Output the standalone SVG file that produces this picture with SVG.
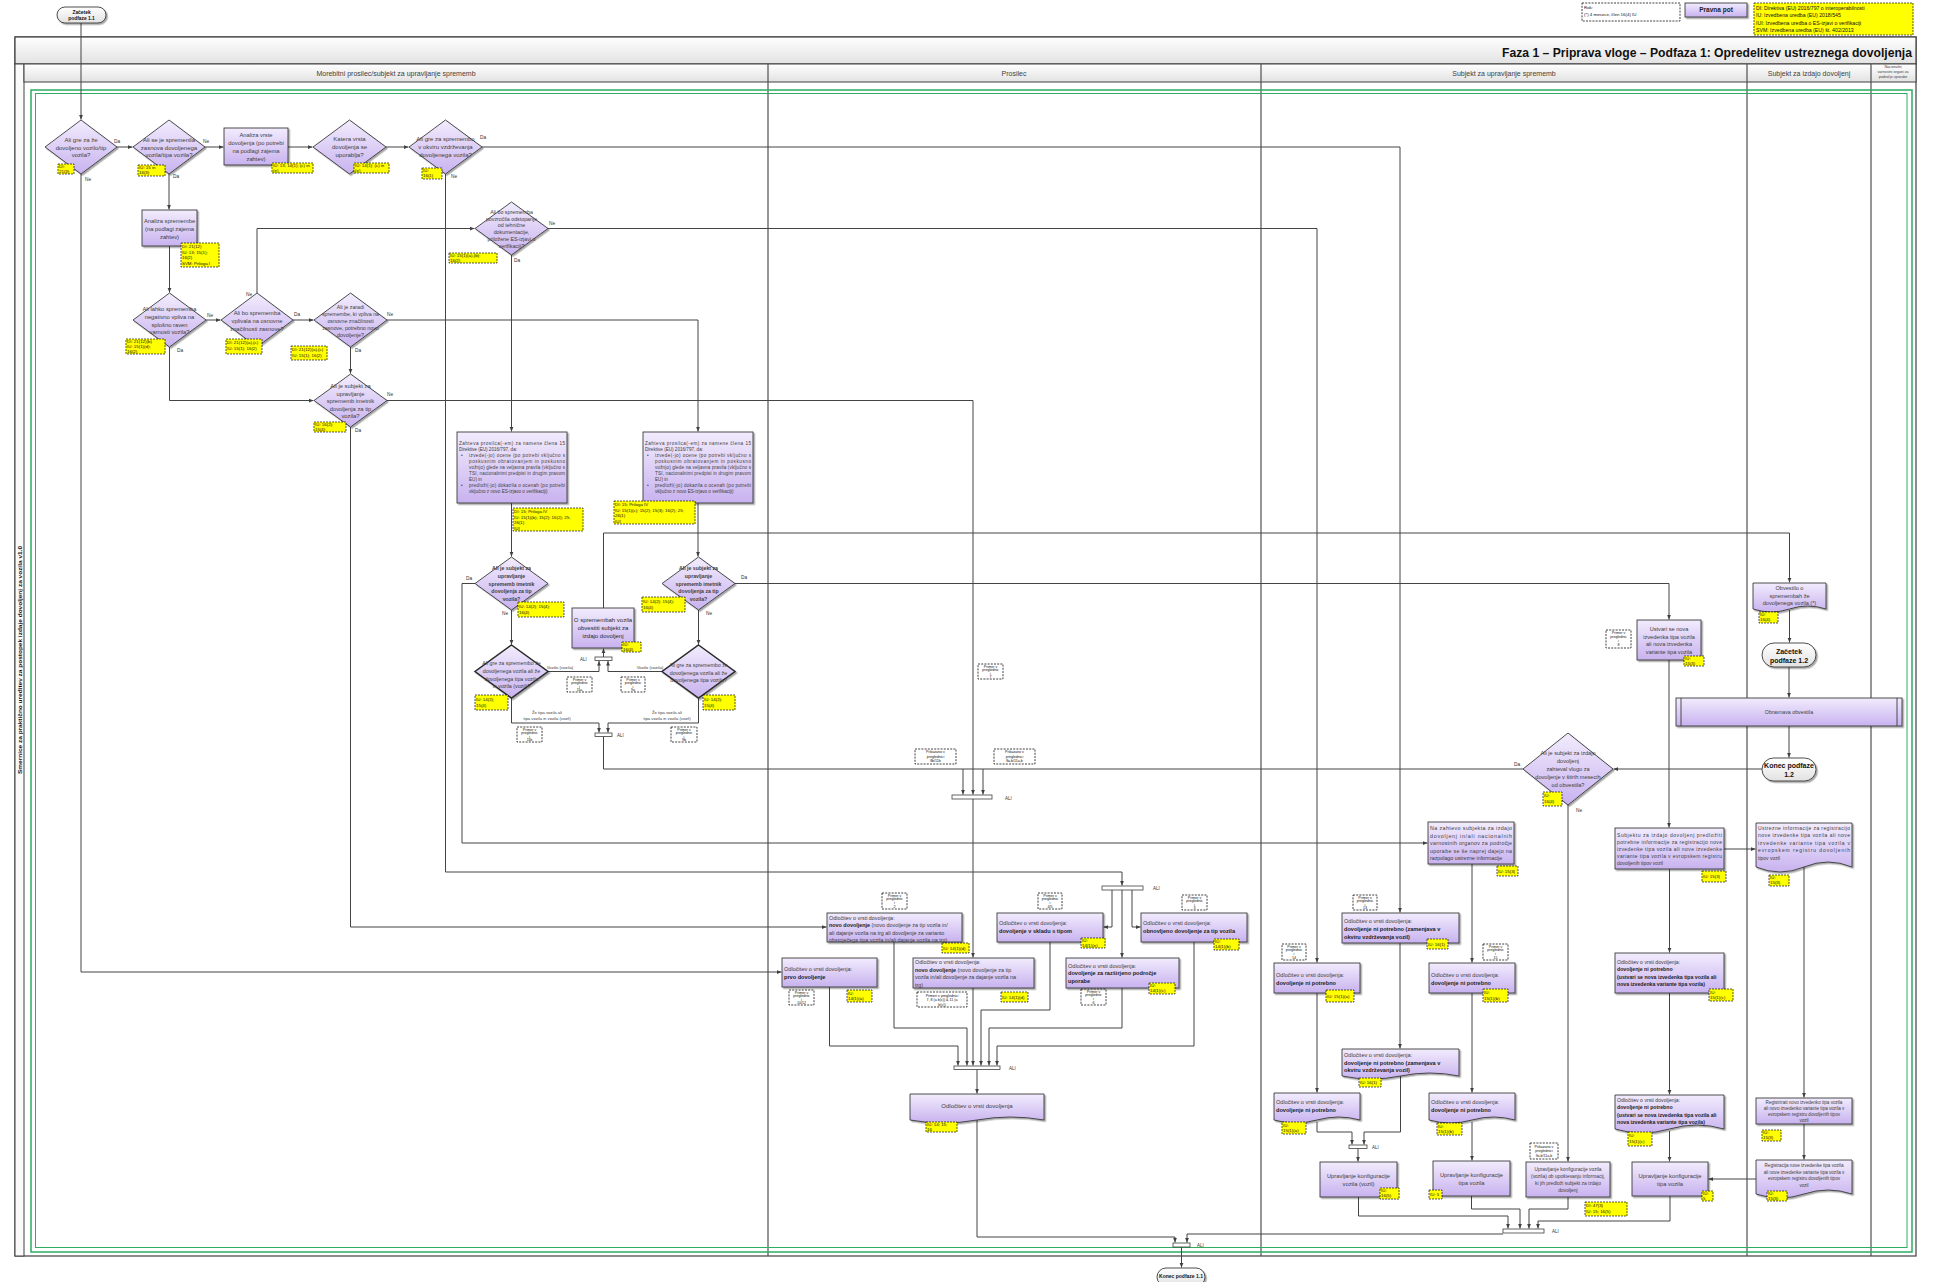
<svg xmlns="http://www.w3.org/2000/svg" width="1944" height="1282" viewBox="0 0 1944 1282">
<defs>
<linearGradient id="lil" x1="0" y1="0" x2="0" y2="1"><stop offset="0" stop-color="#f2ecfd"/><stop offset="1" stop-color="#c8b2ef"/></linearGradient>
<linearGradient id="gry" x1="0" y1="0" x2="0" y2="1"><stop offset="0" stop-color="#ffffff"/><stop offset="1" stop-color="#e2e2e2"/></linearGradient>
<filter id="sh" x="-5%" y="-5%" width="115%" height="130%"><feDropShadow dx="1.5" dy="1.5" stdDeviation="0.7" flood-color="#000" flood-opacity="0.35"/></filter>
<marker id="ah" viewBox="0 0 6 6" refX="6" refY="3" markerWidth="4.5" markerHeight="4.5" markerUnits="userSpaceOnUse" orient="auto"><path d="M0,0.5 L6,3 L0,5.5 z" fill="#404040"/></marker>
</defs>
<style>
text{font-family:"Liberation Sans",Arial,sans-serif;fill:#404040}
.nd{fill:url(#lil);stroke:#3a3a3a;stroke-width:0.9;filter:url(#sh)}
.ndk{fill:url(#lil);stroke:#2a2a2a;stroke-width:1.5;filter:url(#sh)}
.tm{fill:url(#gry);stroke:#3a3a3a;stroke-width:0.9;filter:url(#sh)}
.ref{fill:#ffff00;stroke:#111;stroke-width:0.7;stroke-dasharray:2 1}
.dsh{fill:#fff;stroke:#111;stroke-width:0.8;stroke-dasharray:2 1.2}
.bar{fill:#fff;stroke:#404040;stroke-width:0.8}
.cn{fill:none;stroke:#444;stroke-width:1;marker-end:url(#ah)}
.ln{fill:none;stroke:#444;stroke-width:1}
.lane{stroke:#505050;stroke-width:1.2}
.c{text-anchor:middle}
.b{font-weight:bold}
.t6{font-size:6px}
.t58{font-size:5.8px}
.t55{font-size:5.5px}
.t53{font-size:5.3px}
.t5{font-size:5px}
.t46{font-size:4.6px}
.r{font-size:4.4px;fill:#111}
.p{font-size:3.6px;fill:#111;text-anchor:middle}
.e{font-size:4.8px;fill:#333}
.al{font-size:4.5px;fill:#333}
</style>
<rect x="0" y="0" width="1944" height="1282" fill="#ffffff"/>

<!-- Pool / lanes -->
<g id="pool">
<rect x="15" y="37" width="1901" height="1219" fill="#fff" stroke="#404040" stroke-width="1.2"/>
<rect x="15" y="37" width="1901" height="27" fill="url(#gry)" stroke="#404040" stroke-width="1.2"/>
<text x="1502" y="57" font-size="13" font-weight="bold" style="fill:#111" textLength="410" lengthAdjust="spacingAndGlyphs">Faza 1 – Priprava vloge – Podfaza 1: Opredelitev ustreznega dovoljenja</text>
<rect x="15" y="64" width="9" height="1192" fill="#fafafa" stroke="#404040" stroke-width="1"/>
<text transform="translate(22,660) rotate(-90)" text-anchor="middle" font-size="6.2" font-weight="bold" style="fill:#111" textLength="228" lengthAdjust="spacingAndGlyphs">Smernice za praktično ureditev za postopek izdaje dovoljenj za vozila v1.0</text>
<rect x="24" y="64" width="1892" height="18" fill="url(#gry)" stroke="#404040" stroke-width="1"/>
<line class="lane" x1="768" y1="64" x2="768" y2="1256"/>
<line class="lane" x1="1261" y1="64" x2="1261" y2="1256"/>
<line class="lane" x1="1747" y1="64" x2="1747" y2="1256"/>
<line class="lane" x1="1871" y1="64" x2="1871" y2="1256"/>
<text class="c" x="396" y="75.5" font-size="7">Morebitni prosilec/subjekt za upravljanje sprememb</text>
<text class="c" x="1014" y="75.5" font-size="7">Prosilec</text>
<text class="c" x="1504" y="75.5" font-size="7">Subjekt za upravljanje sprememb</text>
<text class="c" x="1809" y="75.5" font-size="7">Subjekt za izdajo dovoljenj</text>
<text class="c" x="1893" y="68" font-size="3.7">Nacionalni</text>
<text class="c" x="1893" y="73" font-size="3.7">varnostni organi za</text>
<text class="c" x="1893" y="78" font-size="3.7">področje uporabe</text>
<rect x="31" y="90" width="1881" height="1162" fill="none" stroke="#2dad62" stroke-width="1.5"/>
<rect x="35.5" y="93.5" width="1871.5" height="1154" fill="none" stroke="#2dad62" stroke-width="1"/>
</g>

<!-- Legend -->
<g id="legend">
<rect class="dsh" x="1582" y="3" width="98" height="18"/>
<text class="r" x="1584" y="9">Rok:</text>
<text class="r" x="1584" y="16">(*) 4 mesece, člen 16(4) IU</text>
<rect class="nd" x="1685" y="3" width="62" height="14"/>
<text class="c b" x="1716" y="12.3" font-size="6.5" style="fill:#222">Pravna pot</text>
<rect class="ref" x="1754" y="3" width="159" height="32"/>
<text class="r" style="font-size:5.2px"><tspan x="1756" y="9.5">DI: Direktiva (EU) 2016/797 o interoperabilnosti</tspan><tspan x="1756" y="17">IU: Izvedbena uredba (EU) 2018/545</tspan><tspan x="1756" y="24.5">IUI: Izvedbena uredba o ES-izjavi o verifikaciji</tspan><tspan x="1756" y="32">SVM: Izvedbena uredba (EU) št. 402/2013</tspan></text>
</g>

<!-- Connectors -->
<g id="connectors">
<path class="cn" d="M81,23 V119.5"/>
<path class="cn" d="M117,147 H132.5"/>
<path class="cn" d="M81,174 V972 H781.5"/>
<path class="cn" d="M205,147 H223.5"/>
<path class="cn" d="M169,174 V209.5"/>
<path class="cn" d="M288,147 H312.5"/>
<path class="cn" d="M386,147 H408.5"/>
<path class="cn" d="M482,147 H1400 V912.5"/>
<path class="cn" d="M445.5,174 V872 H1122 V885.5"/>
<path class="cn" d="M169.5,246 V292.5"/>
<path class="cn" d="M206,320 H220.5"/>
<path class="cn" d="M169.5,347 V400.5 H313.5"/>
<path class="cn" d="M257,293 V228.5 H474.5"/>
<path class="cn" d="M293,320 H313.5"/>
<path class="cn" d="M350.5,347 V373.5"/>
<path class="cn" d="M387,320 H698 V431.5"/>
<path class="cn" d="M548,228.5 H1317 V962.5"/>
<path class="cn" d="M511.5,255 V431.5"/>
<path class="cn" d="M387,400.5 H973 V794.5"/>
<path class="cn" d="M350.5,427 V927 H826.5"/>
<path class="cn" d="M511.5,503 V556.5"/>
<path class="cn" d="M698,503 V556.5"/>
<path class="cn" d="M475,583.5 H462 V843 H1427.5"/>
<path class="cn" d="M511.5,610 V644.5"/>
<path class="cn" d="M735,583.5 H1669 V619.5"/>
<path class="cn" d="M698.5,610 V644.5"/>
<path class="cn" d="M548,671.5 H599 V661"/>
<path class="cn" d="M662,671.5 H608 V661"/>
<path class="cn" d="M603.5,657 V648.5"/>
<path class="cn" d="M603.5,608 V533 H1789.5 V582.5"/>
<path class="cn" d="M511.5,698 V723 H599 V732.5"/>
<path class="cn" d="M698.5,698 V723 H608 V732.5"/>
<path class="cn" d="M603.5,736.5 V769 H963 V794.5"/>
<path class="ln" d="M963,769 H983"/>
<path class="cn" d="M1523,769 H983 V794.5"/>
<path class="cn" d="M973,799 V957.5"/>
<path class="cn" d="M1112,890 V927 H1103.5"/>
<path class="cn" d="M1122,890 V957.5"/>
<path class="cn" d="M1132,890 V927 H1140.5"/>
<path class="cn" d="M829.5,987 V1046 H958 V1065.5"/>
<path class="cn" d="M894,942 V1028 H967 V1065.5"/>
<path class="cn" d="M973,988 V1065.5"/>
<path class="cn" d="M1050,942 V1010 H981 V1065.5"/>
<path class="cn" d="M1122,988 V1028 H989 V1065.5"/>
<path class="cn" d="M1194,942 V1046 H997 V1065.5"/>
<path class="cn" d="M977,1069.5 V1093.5"/>
<path class="cn" d="M977,1120 V1237 H1175 V1242.5"/>
<path class="cn" d="M1503,1234 H1187 V1242.5"/>
<path class="cn" d="M1181.5,1247 V1267.5"/>
<path class="cn" d="M1472,864 V962.5"/>
<path class="cn" d="M1400,943 V1048.5"/>
<path class="cn" d="M1317,993 V1092.5"/>
<path class="cn" d="M1472,993 V1092.5"/>
<path class="cn" d="M1317,1122 V1132 H1352 V1144.5"/>
<path class="cn" d="M1400.5,1076 V1132 H1364 V1144.5"/>
<path class="cn" d="M1358,1148.5 V1161.5"/>
<path class="cn" d="M1472,1122 V1160.5"/>
<path class="cn" d="M1358.5,1197 V1216 H1508 V1228.5"/>
<path class="cn" d="M1471.5,1196 V1209 H1520 V1228.5"/>
<path class="cn" d="M1568,1197 V1209 H1529 V1228.5"/>
<path class="cn" d="M1670,1196 V1221 H1538 V1228.5"/>
<path class="cn" d="M1568,805 V1161.5"/>
<path class="cn" d="M1669,660 V827.5"/>
<path class="cn" d="M1724,849 H1755.5"/>
<path class="cn" d="M1669.5,869 V952.5"/>
<path class="cn" d="M1669.5,993 V1094.5"/>
<path class="cn" d="M1669.5,1131 V1161.5"/>
<path class="cn" d="M1804,866 V1097.5"/>
<path class="cn" d="M1804,1124 V1159.5"/>
<path class="cn" d="M1756,1179 H1708.5"/>
<path class="cn" d="M1789.5,610 V642.5"/>
<path class="cn" d="M1789,667 V697.5"/>
<path class="cn" d="M1789,726 V757.5"/>
<path class="cn" d="M1762,769 H1613.5"/>
<text class="e" x="114" y="143">Da</text>
<text class="e" x="85" y="181">Ne</text>
<text class="e" x="203" y="143">Ne</text>
<text class="e" x="173" y="178">Da</text>
<text class="e" x="480" y="139">Da</text>
<text class="e" x="451" y="178">Ne</text>
<text class="e" x="549" y="225">Ne</text>
<text class="e" x="514" y="262">Da</text>
<text class="e" x="207" y="317">Ne</text>
<text class="e" x="177" y="352">Da</text>
<text class="e" x="246" y="296">Ne</text>
<text class="e" x="294" y="316">Da</text>
<text class="e" x="387" y="316">Ne</text>
<text class="e" x="355" y="352">Da</text>
<text class="e" x="387" y="396">Ne</text>
<text class="e" x="355" y="432">Da</text>
<text class="e" x="466" y="580">Da</text>
<text class="e" x="502" y="615">Ne</text>
<text class="e" x="741" y="579">Da</text>
<text class="e" x="706" y="615">Ne</text>
<text class="e" x="1514" y="766">Da</text>
<text class="e" x="1576" y="812">Ne</text>
<text class="c" x="560" y="669" font-size="4.3">Vozilo (vozila)</text>
<text class="c" x="650" y="669" font-size="4.3">Vozilo (vozila)</text>
<text class="c" x="547" y="714" font-size="4.2">Že tipa vozila ali</text>
<text class="c" x="547" y="720" font-size="4.2">tipa vozila in vozila (vozil)</text>
<text class="c" x="667" y="714" font-size="4.2">Že tipa vozila ali</text>
<text class="c" x="667" y="720" font-size="4.2">tipa vozila in vozila (vozil)</text>
</g>

<!-- ALI gateways -->
<g id="ali-1"><rect class="bar" x="595" y="657" width="17" height="3.5"/><text class="al" x="580" y="661">ALI</text><text class="al" x="573" y="632">ALI</text></g>
<g id="ali-2"><rect class="bar" x="595" y="733" width="17" height="3.5"/><text class="al" x="617" y="737">ALI</text></g>
<g id="ali-3"><rect class="bar" x="952" y="795" width="40" height="4"/><text class="al" x="1005" y="800">ALI</text></g>
<g id="ali-4"><rect class="bar" x="1102" y="886" width="41" height="4"/><text class="al" x="1153" y="890">ALI</text></g>
<g id="ali-5"><rect class="bar" x="954" y="1066" width="46" height="3.5"/><text class="al" x="1009" y="1069.5">ALI</text></g>
<g id="ali-6"><rect class="bar" x="1173" y="1243" width="17" height="4"/><text class="al" x="1197" y="1247">ALI</text></g>
<g id="ali-7"><rect class="bar" x="1349" y="1145" width="18" height="3.5"/><text class="al" x="1372" y="1149">ALI</text></g>
<g id="ali-8"><rect class="bar" x="1503" y="1229" width="41" height="4"/><text class="al" x="1552" y="1233">ALI</text></g>

<!-- Terminals -->
<g id="n-start"><rect class="tm" x="57" y="7" width="49" height="16" rx="8"/><text class="c b" x="81.5" y="13.8" font-size="4.9" style="fill:#111">Začetek</text><text class="c b" x="81.5" y="20" font-size="4.9" style="fill:#111">podfaze 1.1</text></g>
<g id="n-end11"><rect class="tm" x="1157" y="1268" width="48" height="18" rx="9"/><text class="c b" x="1181" y="1278" font-size="5" style="fill:#111">Konec podfaze 1.1</text></g>
<g id="n-start12"><rect class="tm" x="1762" y="643" width="54" height="24" rx="12"/><text class="c b" x="1789" y="653.5" font-size="7" style="fill:#111">Začetek</text><text class="c b" x="1789" y="662.5" font-size="7" style="fill:#111">podfaze 1.2</text></g>
<g id="n-end12"><rect class="tm" x="1762" y="758" width="54" height="23" rx="11.5"/><text class="c b" x="1789" y="768" font-size="7" style="fill:#111">Konec podfaze</text><text class="c b" x="1789" y="777" font-size="7" style="fill:#111">1.2</text></g>

<!-- Lane 1 nodes -->
<g id="n-d1"><polygon class="nd" points="81,120 117,147 81,174 45,147"/><text class="c t6"><tspan x="81" y="142">Ali gre za že</tspan><tspan x="81" y="149.5">dovoljeno vozilo/tip</tspan><tspan x="81" y="157">vozila?</tspan></text>
<rect class="ref" x="58" y="164" width="16" height="10"/><text class="r"><tspan x="59" y="168.3">DI:</tspan><tspan x="59" y="173">21(3)</tspan></text></g>

<g id="n-d2"><polygon class="nd" points="169,120 205,147 169,174 133,147"/><text class="c t6"><tspan x="169" y="142">Ali se je spremenila</tspan><tspan x="169" y="149.5">zasnova dovoljenega</tspan><tspan x="169" y="157">vozila/tipa vozila?</tspan></text>
<rect class="ref" x="138" y="165" width="27" height="11"/><text class="r"><tspan x="139" y="169.3">IU: 15 in</tspan><tspan x="139" y="174.3">16(3)</tspan></text></g>

<g id="n-b1"><rect class="nd" x="224" y="128" width="64" height="37"/><text class="c t58"><tspan x="256" y="137">Analiza vrste</tspan><tspan x="256" y="145">dovoljenja (po potrebi</tspan><tspan x="256" y="153">na podlagi zajema</tspan><tspan x="256" y="160.5">zahtev)</tspan></text>
<rect class="ref" x="272" y="163" width="41" height="10"/><text class="r"><tspan x="273" y="167.3">IU: 13; 14(1); (c) in</tspan><tspan x="273" y="172">(e)</tspan></text></g>

<g id="n-d3"><polygon class="nd" points="349.5,120 386,147 349.5,174 313,147"/><text class="c t6"><tspan x="349.5" y="141">Katera vrsta</tspan><tspan x="349.5" y="149">dovoljenja se</tspan><tspan x="349.5" y="157">uporablja?</tspan></text>
<rect class="ref" x="354" y="163" width="35" height="10"/><text class="r"><tspan x="355" y="167.3">IU: 14(1); (c) in</tspan><tspan x="355" y="172">(e)</tspan></text></g>

<g id="n-d4"><polygon class="nd" points="445.5,120 482,147 445.5,174 409,147"/><text class="c t6"><tspan x="445.5" y="141">Ali gre za spremembo</tspan><tspan x="445.5" y="149">v okviru vzdrževanja</tspan><tspan x="445.5" y="157">dovoljenega vozila?</tspan></text>
<rect class="ref" x="422" y="168" width="20" height="11"/><text class="r"><tspan x="423" y="172.3">IU:</tspan><tspan x="423" y="177.3">16(1)</tspan></text></g>

<g id="n-as"><rect class="nd" x="142" y="210" width="55" height="36"/><text class="c t58"><tspan x="169.5" y="223">Analiza spremembe</tspan><tspan x="169.5" y="231">(na podlagi zajema</tspan><tspan x="169.5" y="239">zahtev)</tspan></text>
<rect class="ref" x="181" y="243" width="38" height="24"/><text class="r"><tspan x="182" y="248">DI: 21(12)</tspan><tspan x="182" y="253.5">IU: 13; 15(1);</tspan><tspan x="182" y="259">16(2)</tspan><tspan x="182" y="264.5">SVM: Priloga I</tspan></text></g>

<g id="n-d5"><polygon class="nd" points="511.5,202 548,228.5 511.5,255 475,228.5"/><text class="c t53"><tspan x="511.5" y="214">Ali bo sprememba</tspan><tspan x="511.5" y="220.5">povzročila odstopanje</tspan><tspan x="511.5" y="227">od tehnične</tspan><tspan x="511.5" y="234">dokumentacije,</tspan><tspan x="511.5" y="241">priložene ES-izjavi o</tspan><tspan x="511.5" y="248">verifikaciji?</tspan></text>
<rect class="ref" x="449" y="253" width="48" height="10"/><text class="r"><tspan x="450" y="257.3">IU: 15(1)(a),(b);</tspan><tspan x="450" y="262">16(2)</tspan></text></g>

<g id="n-d6"><polygon class="nd" points="169.5,293 206,320 169.5,347 133,320"/><text class="c t58"><tspan x="169.5" y="311">Ali lahko sprememba</tspan><tspan x="169.5" y="319">negativno vpliva na</tspan><tspan x="169.5" y="326.5">splošno raven</tspan><tspan x="169.5" y="334">varnosti vozila?</tspan></text>
<rect class="ref" x="126" y="339" width="39" height="15"/><text class="r"><tspan x="127" y="343.3">DI: 21(12)(b)</tspan><tspan x="127" y="348.1">IU: 15(1)(d);</tspan><tspan x="127" y="352.9">16(2)</tspan></text></g>

<g id="n-d7"><polygon class="nd" points="257,293 293,320 257,347 221,320"/><text class="c t58"><tspan x="257" y="315">Ali bo sprememba</tspan><tspan x="257" y="323">vplivala na osnovne</tspan><tspan x="257" y="331">značilnosti zasnove?</tspan></text>
<rect class="ref" x="226" y="339" width="36" height="15"/><text class="r"><tspan x="227" y="344">DI: 21(12)(a),(c)</tspan><tspan x="227" y="350">IU: 15(1); 16(2)</tspan></text></g>

<g id="n-d8"><polygon class="nd" points="350.5,293 387,320 350.5,347 314,320"/><text class="c t53"><tspan x="350.5" y="309">Ali je zaradi</tspan><tspan x="350.5" y="316">spremembe, ki vpliva na</tspan><tspan x="350.5" y="323">osnovne značilnosti</tspan><tspan x="350.5" y="330">zasnove, potrebno novo</tspan><tspan x="350.5" y="337">dovoljenje?</tspan></text>
<rect class="ref" x="291" y="346" width="36" height="14"/><text class="r"><tspan x="292" y="351">DI: 21(12)(a),(c)</tspan><tspan x="292" y="357">IU: 15(1); 16(2)</tspan></text></g>

<g id="n-d9"><polygon class="nd" points="350.5,374 387,400.5 350.5,427 314,400.5"/><text class="c t58"><tspan x="350.5" y="388">Ali je subjekt za</tspan><tspan x="350.5" y="395.5">upravljanje</tspan><tspan x="350.5" y="403">sprememb imetnik</tspan><tspan x="350.5" y="410.5">dovoljenja za tip</tspan><tspan x="350.5" y="418">vozila?</tspan></text>
<rect class="ref" x="314" y="422" width="32" height="10"/><text class="r"><tspan x="315" y="426.3">IU: 16(2);</tspan><tspan x="315" y="431">15(4)</tspan></text></g>

<g id="n-z1"><rect class="nd" x="457" y="432" width="110" height="71"/>
<text class="t46" x="459" y="445" textLength="106" lengthAdjust="spacing">Zahteva prosilca(-em) za namene člena 15</text>
<text class="t46" x="459" y="450.5">Direktive (EU) 2016/797, da:</text>
<text class="t46" x="461" y="456.5">•</text>
<text class="t46" x="469" y="456.5" textLength="96" lengthAdjust="spacing">izvede(-jo) ocene (po potrebi vključno s</text>
<text class="t46" x="469" y="462.5" textLength="96" lengthAdjust="spacing">poskusnim obratovanjem in poskusno</text>
<text class="t46" x="469" y="468.5" textLength="96" lengthAdjust="spacing">vožnjo) glede na veljavna pravila (vključno s</text>
<text class="t46" x="469" y="474.5" textLength="96" lengthAdjust="spacing">TSI, nacionalnimi predpisi in drugim pravom</text>
<text class="t46" x="469" y="480.5">EU) in</text>
<text class="t46" x="461" y="486.5">•</text>
<text class="t46" x="469" y="486.5" textLength="96" lengthAdjust="spacing">predloži(-jo) dokazila o ocenah (po potrebi</text>
<text class="t46" x="469" y="492.5">vključno z novo ES-izjavo o verifikaciji)</text>
<rect class="ref" x="513" y="508" width="70" height="23"/><text class="r"><tspan x="514" y="513">DI: 15; Priloga IV</tspan><tspan x="514" y="518.5">IU: 15(1)(b); 15(2); 16(2); 25;</tspan><tspan x="514" y="524">26(1)</tspan><tspan x="514" y="529.5">IUI</tspan></text></g>

<g id="n-z2"><rect class="nd" x="643" y="432" width="110" height="71"/>
<text class="t46" x="645" y="445" textLength="106" lengthAdjust="spacing">Zahteva prosilca(-em) za namene člena 15</text>
<text class="t46" x="645" y="450.5">Direktive (EU) 2016/797, da:</text>
<text class="t46" x="647" y="456.5">•</text>
<text class="t46" x="655" y="456.5" textLength="96" lengthAdjust="spacing">izvede(-jo) ocene (po potrebi vključno s</text>
<text class="t46" x="655" y="462.5" textLength="96" lengthAdjust="spacing">poskusnim obratovanjem in poskusno</text>
<text class="t46" x="655" y="468.5" textLength="96" lengthAdjust="spacing">vožnjo) glede na veljavna pravila (vključno s</text>
<text class="t46" x="655" y="474.5" textLength="96" lengthAdjust="spacing">TSI, nacionalnimi predpisi in drugim pravom</text>
<text class="t46" x="655" y="480.5">EU) in</text>
<text class="t46" x="647" y="486.5">•</text>
<text class="t46" x="655" y="486.5" textLength="96" lengthAdjust="spacing">predloži(-jo) dokazila o ocenah (po potrebi</text>
<text class="t46" x="655" y="492.5">vključno z novo ES-izjavo o verifikaciji)</text>
<rect class="ref" x="614" y="501" width="81" height="23"/><text class="r"><tspan x="615" y="506">DI: 15; Priloga IV</tspan><tspan x="615" y="511.5">IU: 15(1)(c); 15(2); 15(3); 16(2); 25;</tspan><tspan x="615" y="517">26(1)</tspan><tspan x="615" y="522.5">IUI</tspan></text></g>

<g id="n-d10"><polygon class="nd" points="511.5,557 548,583.5 511.5,610 475,583.5"/><text class="c b" font-size="5.2"><tspan x="511.5" y="570">Ali je subjekt za</tspan><tspan x="511.5" y="578">upravljanje</tspan><tspan x="511.5" y="585.5">sprememb imetnik</tspan><tspan x="511.5" y="593">dovoljenja za tip</tspan><tspan x="511.5" y="601">vozila?</tspan></text>
<rect class="ref" x="518" y="602" width="46" height="15"/><text class="r"><tspan x="519" y="607.5">IU: 14(2); 15(4);</tspan><tspan x="519" y="613.5">16(4)</tspan></text></g>

<g id="n-d11"><polygon class="nd" points="698.5,557 735,583.5 698.5,610 662,583.5"/><text class="c b" font-size="5.2"><tspan x="698.5" y="570">Ali je subjekt za</tspan><tspan x="698.5" y="578">upravljanje</tspan><tspan x="698.5" y="585.5">sprememb imetnik</tspan><tspan x="698.5" y="593">dovoljenja za tip</tspan><tspan x="698.5" y="601">vozila?</tspan></text>
<rect class="ref" x="642" y="597" width="43" height="15"/><text class="r"><tspan x="643" y="602.5">IU: 14(2); 15(4);</tspan><tspan x="643" y="608.5">16(4)</tspan></text></g>

<g id="n-os"><rect class="nd" x="572" y="608" width="62" height="40"/><text class="c" font-size="6" style="fill:#2a2a2a"><tspan x="603" y="622">O spremembah vozila</tspan><tspan x="603" y="630">obvestiti subjekt za</tspan><tspan x="603" y="638">izdajo dovoljenj</tspan></text>
<rect class="ref" x="622" y="642" width="19" height="10"/><text class="r"><tspan x="623" y="646.3">IU:</tspan><tspan x="623" y="651">16(4)</tspan></text></g>

<g id="n-d12"><polygon class="ndk" points="511.5,645 548,671.5 511.5,698 475,671.5"/><text class="c t53"><tspan x="511.5" y="665">Ali gre za spremembo že</tspan><tspan x="511.5" y="673">dovoljenega vozila ali že</tspan><tspan x="511.5" y="680.5">dovoljenega tipa vozila</tspan><tspan x="511.5" y="688">in vozila (vozil)?</tspan></text>
<rect class="ref" x="475" y="695" width="33" height="15"/><text class="r"><tspan x="476" y="700.5">IU: 14(2);</tspan><tspan x="476" y="706.5">15(4)</tspan></text></g>

<g id="n-d13"><polygon class="ndk" points="698.5,645 735,671.5 698.5,698 662,671.5"/><text class="c t53"><tspan x="698.5" y="667">Ali gre za spremembo že</tspan><tspan x="698.5" y="674.5">dovoljenega vozila ali že</tspan><tspan x="698.5" y="682">dovoljenega tipa vozila?</tspan></text>
<rect class="ref" x="703" y="695" width="32" height="15"/><text class="r"><tspan x="704" y="700.5">IU: 14(2);</tspan><tspan x="704" y="706.5">15(4)</tspan></text></g>

<!-- Example references (dashed) -->
<g id="examples">
<rect class="dsh" x="567" y="677" width="25" height="15"/><text class="p"><tspan x="579.5" y="680.5">Primer v</tspan><tspan x="579.5" y="684">preglednic</tspan><tspan x="579.5" y="687.5">i</tspan><tspan x="579.5" y="691">11a</tspan></text>
<rect class="dsh" x="621" y="677" width="24" height="15"/><text class="p"><tspan x="633" y="680.5">Primer v</tspan><tspan x="633" y="684">preglednic</tspan><tspan x="633" y="687.5">i</tspan><tspan x="633" y="691">9a</tspan></text>
<rect class="dsh" x="517" y="727" width="25" height="15"/><text class="p"><tspan x="529.5" y="730.5">Primer v</tspan><tspan x="529.5" y="734">preglednic</tspan><tspan x="529.5" y="737.5">i</tspan><tspan x="529.5" y="741">11b</tspan></text>
<rect class="dsh" x="671" y="727" width="26" height="15"/><text class="p"><tspan x="684" y="730.5">Primer v</tspan><tspan x="684" y="734">preglednic</tspan><tspan x="684" y="737.5">i</tspan><tspan x="684" y="741">9b</tspan></text>
<rect class="dsh" x="978" y="664" width="25" height="15"/><text class="p"><tspan x="990.5" y="667.5">Primer v</tspan><tspan x="990.5" y="671">preglednic</tspan><tspan x="990.5" y="674.5">i</tspan><tspan x="990.5" y="678">7</tspan></text>
<rect class="dsh" x="915" y="749" width="41" height="15"/><text class="p"><tspan x="935.5" y="753">Prikazano v</tspan><tspan x="935.5" y="757.5">preglednici</tspan><tspan x="935.5" y="762">8b/11b</tspan></text>
<rect class="dsh" x="994" y="749" width="41" height="15"/><text class="p"><tspan x="1014.5" y="753">Prikazano v</tspan><tspan x="1014.5" y="757.5">preglednici</tspan><tspan x="1014.5" y="762">8a,b/11a,b</tspan></text>
<rect class="dsh" x="882" y="893" width="25" height="16"/><text class="p"><tspan x="894.5" y="896.5">Primer v</tspan><tspan x="894.5" y="900">preglednic</tspan><tspan x="894.5" y="903.5">i</tspan><tspan x="894.5" y="907.5">2</tspan></text>
<rect class="dsh" x="1038" y="893" width="24" height="16"/><text class="p"><tspan x="1050" y="896.5">Primer v</tspan><tspan x="1050" y="900">preglednic</tspan><tspan x="1050" y="903.5">i</tspan><tspan x="1050" y="907.5">4/5</tspan></text>
<rect class="dsh" x="1182" y="895" width="25" height="15"/><text class="p"><tspan x="1194.5" y="898.5">Primer v</tspan><tspan x="1194.5" y="902">preglednic</tspan><tspan x="1194.5" y="905.5">i</tspan><tspan x="1194.5" y="909">3</tspan></text>
<rect class="dsh" x="789" y="990" width="25" height="15"/><text class="p"><tspan x="801.5" y="993.5">Primer v</tspan><tspan x="801.5" y="997">preglednic</tspan><tspan x="801.5" y="1000.5">i</tspan><tspan x="801.5" y="1004">10/12</tspan></text>
<rect class="dsh" x="917" y="992" width="50" height="15"/><text class="p"><tspan x="942" y="996.5">Primeri v preglednici</tspan><tspan x="942" y="1001">7, 8 (a b(c)) &amp; 11 (a</tspan><tspan x="942" y="1005.5">b(c))</tspan></text>
<rect class="dsh" x="1081" y="989" width="25" height="16"/><text class="p"><tspan x="1093.5" y="992.5">Primer v</tspan><tspan x="1093.5" y="996">preglednic</tspan><tspan x="1093.5" y="999.5">i</tspan><tspan x="1093.5" y="1003.5">6</tspan></text>
<rect class="dsh" x="1353" y="895" width="24" height="15"/><text class="p"><tspan x="1365" y="898.5">Primer v</tspan><tspan x="1365" y="902">preglednic</tspan><tspan x="1365" y="905.5">i</tspan><tspan x="1365" y="909">13</tspan></text>
<rect class="dsh" x="1282" y="944" width="24" height="16"/><text class="p"><tspan x="1294" y="947.5">Primer v</tspan><tspan x="1294" y="951">preglednic</tspan><tspan x="1294" y="954.5">i</tspan><tspan x="1294" y="958.5">14</tspan></text>
<rect class="dsh" x="1483" y="944" width="25" height="16"/><text class="p"><tspan x="1495.5" y="947.5">Primer v</tspan><tspan x="1495.5" y="951">preglednic</tspan><tspan x="1495.5" y="954.5">i</tspan><tspan x="1495.5" y="958.5">15</tspan></text>
<rect class="dsh" x="1530" y="1143" width="28" height="16"/><text class="p"><tspan x="1544" y="1147.5">Prikazano v</tspan><tspan x="1544" y="1152">preglednici</tspan><tspan x="1544" y="1156.5">9a,b/11a,b</tspan></text>
<rect class="dsh" x="1606" y="630" width="25" height="18"/><text class="p"><tspan x="1618.5" y="634">Primer v</tspan><tspan x="1618.5" y="638">preglednic</tspan><tspan x="1618.5" y="642">i</tspan><tspan x="1618.5" y="646">8</tspan></text>
</g>

<!-- Prosilec lane nodes -->
<g id="n-novo1"><rect class="nd" x="827" y="913" width="135" height="29"/><text font-size="5.4"><tspan x="829" y="919.5">Odločitev o vrsti dovoljenja:</tspan><tspan x="829" y="927"><tspan class="b" style="fill:#222">novo dovoljenje</tspan> (novo dovoljenje za tip vozila in/</tspan><tspan x="829" y="934.5">ali dajanje vozila na trg ali dovoljenje za varianto</tspan><tspan x="829" y="941.5">obstoječega tipa vozila in/ali dajanje vozila na trg)</tspan></text>
<rect class="ref" x="942" y="943" width="27" height="10"/><text class="r" x="943" y="949.5">IU: 14(1)(d)</text></g>

<g id="n-skladu"><rect class="nd" x="997" y="913" width="106" height="29"/><text font-size="5.6"><tspan x="999" y="925">Odločitev o vrsti dovoljenja:</tspan><tspan x="999" y="933" class="b" style="fill:#222">dovoljenje v skladu s tipom</tspan></text>
<rect class="ref" x="1081" y="938" width="24" height="10"/><text class="r"><tspan x="1082" y="942.3">IU:</tspan><tspan x="1082" y="947">14(1)(e)</tspan></text></g>

<g id="n-obnov"><rect class="nd" x="1141" y="913" width="106" height="29"/><text font-size="5.6"><tspan x="1143" y="925">Odločitev o vrsti dovoljenja:</tspan><tspan x="1143" y="933" class="b" style="fill:#222">obnovljeno dovoljenje za tip vozila</tspan></text>
<rect class="ref" x="1214" y="939" width="25" height="11"/><text class="r"><tspan x="1215" y="943.3">IU:</tspan><tspan x="1215" y="948.3">14(1)(b)</tspan></text></g>

<g id="n-prvo"><rect class="nd" x="782" y="958" width="95" height="29"/><text font-size="5.6"><tspan x="784" y="970.5">Odločitev o vrsti dovoljenja:</tspan><tspan x="784" y="978.5" class="b" style="fill:#222">prvo dovoljenje</tspan></text>
<rect class="ref" x="847" y="990" width="25" height="12"/><text class="r"><tspan x="848" y="994.5">IU:</tspan><tspan x="848" y="1000">14(1)(a)</tspan></text></g>

<g id="n-novo2"><rect class="nd" x="913" y="958" width="121" height="30"/><text font-size="5.4"><tspan x="915" y="964">Odločitev o vrsti dovoljenja:</tspan><tspan x="915" y="971.5"><tspan class="b" style="fill:#222">novo dovoljenje</tspan> (novo dovoljenje za tip</tspan><tspan x="915" y="979">vozila in/ali dovoljenje za dajanje vozila na</tspan><tspan x="915" y="986.5">trg)</tspan></text>
<rect class="ref" x="1001" y="992" width="27" height="10"/><text class="r" x="1002" y="998.5">IU: 14(1)(d)</text></g>

<g id="n-razs"><rect class="nd" x="1066" y="958" width="113" height="30"/><text font-size="5.6"><tspan x="1068" y="967.5">Odločitev o vrsti dovoljenja:</tspan><tspan x="1068" y="975" class="b" style="fill:#222">dovoljenje za razširjeno področje</tspan><tspan x="1068" y="982.5" class="b" style="fill:#222">uporabe</tspan></text>
<rect class="ref" x="1149" y="983" width="26" height="11"/><text class="r"><tspan x="1150" y="987.3">IU:</tspan><tspan x="1150" y="992.3">14(1)(c)</tspan></text></g>

<g id="n-odl"><path class="nd" d="M910,1094 H1044 V1120 Q1010.5,1114 977,1120 T910,1120 Z"/><text class="c" x="977" y="1108" font-size="6">Odločitev o vrsti dovoljenja</text>
<rect class="ref" x="926" y="1122" width="31" height="10"/><text class="r"><tspan x="927" y="1126.3">IU: 14; 15;</tspan><tspan x="927" y="1131">16</tspan></text></g>

<!-- Subjekt za upravljanje sprememb nodes -->
<g id="n-nazaht"><rect class="nd" x="1428" y="822" width="86" height="42"/>
<text class="t53" x="1430" y="830" textLength="82" lengthAdjust="spacing">Na zahtevo subjekta za izdajo</text>
<text class="t53" x="1430" y="837.5" textLength="82" lengthAdjust="spacing">dovoljenj in/ali nacionalnih</text>
<text class="t53" x="1430" y="845" textLength="82" lengthAdjust="spacing">varnostnih organov za področje</text>
<text class="t53" x="1430" y="852.5" textLength="82" lengthAdjust="spacing">uporabe se še naprej dajejo na</text>
<text class="t53" x="1430" y="860">razpolago ustrezne informacije</text>
<rect class="ref" x="1497" y="866" width="21" height="10"/><text class="r" x="1498" y="872.5">IU: 15(3)</text></g>

<g id="n-zam"><rect class="nd" x="1342" y="913" width="117" height="30"/><text font-size="5.6"><tspan x="1344" y="923">Odločitev o vrsti dovoljenja:</tspan><tspan x="1344" y="931" class="b" style="fill:#222">dovoljenje ni potrebno (zamenjava v</tspan><tspan x="1344" y="938.5" class="b" style="fill:#222">okviru vzdrževanja vozil)</tspan></text>
<rect class="ref" x="1427" y="939" width="21" height="10"/><text class="r" x="1428" y="945.5">IU: 16(1)</text></g>

<g id="n-nip1"><rect class="nd" x="1274" y="963" width="86" height="30"/><text font-size="5.6"><tspan x="1276" y="977">Odločitev o vrsti dovoljenja:</tspan><tspan x="1276" y="984.5" class="b" style="fill:#222">dovoljenje ni potrebno</tspan></text>
<rect class="ref" x="1326" y="990" width="28" height="12"/><text class="r" x="1327" y="997.5">IU: 15(1)(a)</text></g>

<g id="n-nip2"><rect class="nd" x="1429" y="963" width="86" height="30"/><text font-size="5.6"><tspan x="1431" y="977">Odločitev o vrsti dovoljenja:</tspan><tspan x="1431" y="984.5" class="b" style="fill:#222">dovoljenje ni potrebno</tspan></text>
<rect class="ref" x="1483" y="989" width="25" height="13"/><text class="r"><tspan x="1484" y="993.5">IU:</tspan><tspan x="1484" y="999.5">15(1)(b)</tspan></text></g>

<g id="n-zamdoc"><path class="nd" d="M1342,1049 H1459 V1076 Q1429.75,1070 1400.5,1076 T1342,1076 Z"/><text font-size="5.6"><tspan x="1344" y="1057">Odločitev o vrsti dovoljenja:</tspan><tspan x="1344" y="1064.5" class="b" style="fill:#222">dovoljenje ni potrebno (zamenjava v</tspan><tspan x="1344" y="1072" class="b" style="fill:#222">okviru vzdrževanja vozil)</tspan></text>
<rect class="ref" x="1359" y="1078" width="22" height="9"/><text class="r" x="1360" y="1084">IU: 16(1)</text></g>

<g id="n-nip1doc"><path class="nd" d="M1274,1093 H1360 V1120 Q1338.5,1114 1317,1120 T1274,1120 Z"/><text font-size="5.6"><tspan x="1276" y="1104">Odločitev o vrsti dovoljenja:</tspan><tspan x="1276" y="1111.5" class="b" style="fill:#222">dovoljenje ni potrebno</tspan></text>
<rect class="ref" x="1282" y="1122" width="24" height="12"/><text class="r"><tspan x="1283" y="1126.5">IU:</tspan><tspan x="1283" y="1132">15(1)(a)</tspan></text></g>

<g id="n-nip2doc"><path class="nd" d="M1429,1093 H1515 V1120 Q1493.5,1114 1472,1120 T1429,1120 Z"/><text font-size="5.6"><tspan x="1431" y="1104">Odločitev o vrsti dovoljenja:</tspan><tspan x="1431" y="1111.5" class="b" style="fill:#222">dovoljenje ni potrebno</tspan></text>
<rect class="ref" x="1437" y="1123" width="25" height="12"/><text class="r"><tspan x="1438" y="1127.5">IU:</tspan><tspan x="1438" y="1133">15(1)(b)</tspan></text></g>

<g id="n-upr1"><rect class="nd" x="1320" y="1162" width="77" height="35"/><text class="c" font-size="5.8"><tspan x="1358.5" y="1178">Upravljanje konfiguracije</tspan><tspan x="1358.5" y="1186">vozila (vozil)</tspan></text>
<rect class="ref" x="1380" y="1188" width="19" height="11"/><text class="r"><tspan x="1381" y="1192.3">IU:</tspan><tspan x="1381" y="1197.3">16(5)</tspan></text></g>

<g id="n-upr2"><rect class="nd" x="1433" y="1161" width="77" height="35"/><text class="c" font-size="5.8"><tspan x="1471.5" y="1177">Upravljanje konfiguracije</tspan><tspan x="1471.5" y="1185">tipa vozila</tspan></text>
<rect class="ref" x="1429" y="1190" width="13" height="9"/><text class="r" x="1430" y="1196.3">IU: 5</text></g>

<g id="n-upr3"><rect class="nd" x="1526" y="1162" width="84" height="35"/><text class="c" font-size="4.9"><tspan x="1568" y="1171">Upravljanje konfiguracije vozila</tspan><tspan x="1568" y="1178">(vozila) ob upoštevanju informacij,</tspan><tspan x="1568" y="1185">ki jih predloži subjekt za izdajo</tspan><tspan x="1568" y="1192">dovoljenj</tspan></text>
<rect class="ref" x="1585" y="1202" width="42" height="14"/><text class="r"><tspan x="1586" y="1207">DI: 47(3)</tspan><tspan x="1586" y="1213">IU: 15; 16(5)</tspan></text></g>

<g id="n-d14"><polygon class="nd" points="1568,733 1613,769 1568,805 1523,769"/><text class="c" font-size="5.6"><tspan x="1568" y="755">Ali je subjekt za izdajo</tspan><tspan x="1568" y="763">dovoljenj</tspan><tspan x="1568" y="771">zahteval vlogo za</tspan><tspan x="1568" y="779">dovoljenje v štirih mesecih</tspan><tspan x="1568" y="787">od obvestila?</tspan></text>
<rect class="ref" x="1543" y="792" width="19" height="14"/><text class="r"><tspan x="1544" y="797">IU:</tspan><tspan x="1544" y="803">16(4)</tspan></text></g>

<g id="n-ustvari"><rect class="nd" x="1637" y="620" width="64" height="40"/><text class="c" font-size="5.6"><tspan x="1669" y="631">Ustvari se nova</tspan><tspan x="1669" y="638.5">izvedenka tipa vozila</tspan><tspan x="1669" y="646">ali nova izvedenka</tspan><tspan x="1669" y="653.5">variante tipa vozila</tspan></text>
<rect class="ref" x="1684" y="656" width="20" height="10"/><text class="r"><tspan x="1685" y="660.3">IU:</tspan><tspan x="1685" y="665">15(3)</tspan></text></g>

<g id="n-subjektu"><rect class="nd" x="1615" y="828" width="109" height="41"/>
<text class="t5" x="1617" y="836.5" textLength="105" lengthAdjust="spacing">Subjektu za izdajo dovoljenj predložiti</text>
<text class="t5" x="1617" y="843.5" textLength="105" lengthAdjust="spacing">potrebne informacije za registracijo nove</text>
<text class="t5" x="1617" y="850.5" textLength="105" lengthAdjust="spacing">izvedenke tipa vozila ali nove izvedenke</text>
<text class="t5" x="1617" y="857.5" textLength="105" lengthAdjust="spacing">variante tipa vozila v evropskem registru</text>
<text class="t5" x="1617" y="864.5">dovoljenih tipov vozil</text>
<rect class="ref" x="1702" y="871" width="24" height="11"/><text class="r" x="1703" y="878">IU: 15(3)</text></g>

<g id="n-nip3"><rect class="nd" x="1615" y="953" width="109" height="40"/><text font-size="5.2"><tspan x="1617" y="963.5">Odločitev o vrsti dovoljenja:</tspan><tspan x="1617" y="971" class="b" style="fill:#222">dovoljenje ni potrebno</tspan><tspan x="1617" y="978.5" class="b" style="fill:#222">(ustvari se nova izvedenka tipa vozila ali</tspan><tspan x="1617" y="986" class="b" style="fill:#222">nova izvedenka variante tipa vozila)</tspan></text>
<rect class="ref" x="1709" y="989" width="24" height="12"/><text class="r"><tspan x="1710" y="993.5">IU:</tspan><tspan x="1710" y="999">15(1)(c)</tspan></text></g>

<g id="n-nip3doc"><path class="nd" d="M1615,1095 H1724 V1129 Q1696.75,1121 1669.5,1129 T1615,1129 Z"/><text font-size="5.2"><tspan x="1617" y="1101.5">Odločitev o vrsti dovoljenja:</tspan><tspan x="1617" y="1109" class="b" style="fill:#222">dovoljenje ni potrebno</tspan><tspan x="1617" y="1116.5" class="b" style="fill:#222">(ustvari se nova izvedenka tipa vozila ali</tspan><tspan x="1617" y="1124" class="b" style="fill:#222">nova izvedenka variante tipa vozila)</tspan></text>
<rect class="ref" x="1628" y="1132" width="24" height="14"/><text class="r"><tspan x="1629" y="1137">IU:</tspan><tspan x="1629" y="1143">15(1)(c)</tspan></text></g>

<g id="n-upr4"><rect class="nd" x="1632" y="1162" width="76" height="34"/><text class="c" font-size="5.8"><tspan x="1670" y="1178">Upravljanje konfiguracije</tspan><tspan x="1670" y="1186">tipa vozila</tspan></text>
<rect class="ref" x="1702" y="1191" width="11" height="10"/><text class="r"><tspan x="1703" y="1195.3">IU:</tspan><tspan x="1703" y="1200">5</tspan></text></g>

<!-- Subjekt za izdajo dovoljenj nodes -->
<g id="n-obvestilo"><path class="nd" d="M1753,583 H1826 V609 Q1807.75,603 1789.5,609 T1753,609 Z"/><text class="c" font-size="5.6"><tspan x="1789.5" y="590">Obvestilo o</tspan><tspan x="1789.5" y="597.5">spremembah že</tspan><tspan x="1789.5" y="605">dovoljenega vozila (*)</tspan></text>
<rect class="ref" x="1759" y="612" width="19" height="11"/><text class="r"><tspan x="1760" y="616.3">IU:</tspan><tspan x="1760" y="621.3">16(4)</tspan></text></g>

<g id="n-obravnava"><rect class="nd" x="1676" y="698" width="226" height="28"/><line x1="1681" y1="698" x2="1681" y2="726" stroke="#3a3a3a" stroke-width="0.9"/><line x1="1897" y1="698" x2="1897" y2="726" stroke="#3a3a3a" stroke-width="0.9"/><text class="c" x="1789" y="714" font-size="5.3">Obravnava obvestila</text></g>

<g id="n-ustrezne"><path class="nd" d="M1756,823 H1852 V867 Q1828,857 1804,867 T1756,867 Z"/>
<text class="t5" x="1758" y="829.5" textLength="92" lengthAdjust="spacing">Ustrezne informacije za registracijo</text>
<text class="t5" x="1758" y="837" textLength="92" lengthAdjust="spacing">nove izvedenke tipa vozila ali nove</text>
<text class="t5" x="1758" y="844.5" textLength="92" lengthAdjust="spacing">izvedenke variante tipa vozila v</text>
<text class="t5" x="1758" y="852" textLength="92" lengthAdjust="spacing">evropskem registru dovoljenih</text>
<text class="t5" x="1758" y="859.5">tipov vozil</text>
<rect class="ref" x="1769" y="875" width="20" height="11"/><text class="r"><tspan x="1770" y="879.3">IU:</tspan><tspan x="1770" y="884.3">15(3)</tspan></text></g>

<g id="n-registrirati"><rect class="nd" x="1756" y="1098" width="96" height="26"/><text class="c" font-size="4.6"><tspan x="1804" y="1104">Registrirati novo izvedenko tipa vozila</tspan><tspan x="1804" y="1110">ali novo izvedenko variante tipa vozila v</tspan><tspan x="1804" y="1116">evropskem registru dovoljenih tipov</tspan><tspan x="1804" y="1122">vozil</tspan></text>
<rect class="ref" x="1762" y="1130" width="19" height="11"/><text class="r"><tspan x="1763" y="1134.3">IU:</tspan><tspan x="1763" y="1139.3">15(3)</tspan></text></g>

<g id="n-registracija"><path class="nd" d="M1756,1160 H1852 V1194 Q1828,1186 1804,1194 T1756,1194 Z"/><text class="c" font-size="4.6"><tspan x="1804" y="1167">Registracija nove izvedenke tipa vozila</tspan><tspan x="1804" y="1173.5">ali nove izvedenke variante tipa vozila v</tspan><tspan x="1804" y="1180">evropskem registru dovoljenih tipov</tspan><tspan x="1804" y="1186.5">vozil</tspan></text>
<rect class="ref" x="1767" y="1191" width="20" height="10"/><text class="r"><tspan x="1768" y="1195.3">IU:</tspan><tspan x="1768" y="1200">15(3)</tspan></text></g>
</svg>
